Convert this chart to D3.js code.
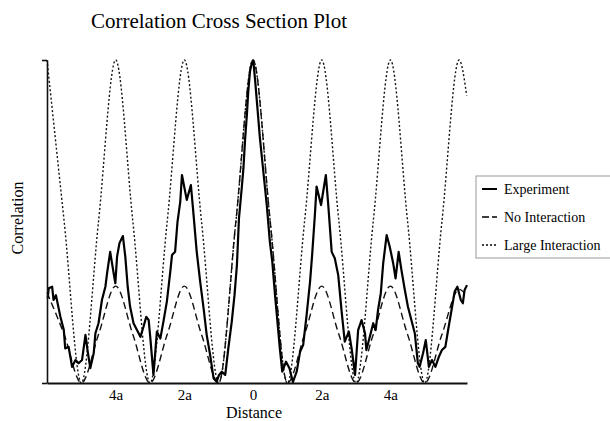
<!DOCTYPE html>
<html>
<head>
<meta charset="utf-8">
<script src="https://cdn.jsdelivr.net/npm/d3@7"></script>
<style>
    body { margin: 0; background: #fff; }
    text { font-family: "Liberation Serif", "Times New Roman", serif; fill: #000; }
</style>
</head>
<body>
<div id="container"></div>
<script>
// distance in units of a
var tickPositions = [-4, -2, 0, 2, 4];
var tickLabels = ["4a", "2a", "0", "2a", "4a"];

// experiment trace (distance, correlation)
var experimentX = [-5.98, -5.95, -5.85, -5.81, -5.74, -5.61, -5.51, -5.47, -5.37, -5.32, -5.27, -5.17, -5.08, -4.98, -4.88, -4.82, -4.74, -4.64, -4.59, -4.50,
    -4.40, -4.30, -4.25, -4.16, -4.06, -4.01, -3.96, -3.89, -3.79, -3.72, -3.65, -3.58, -3.48, -3.38, -3.28, -3.19, -3.11, -3.04, -2.99, -2.90,
    -2.80, -2.70, -2.61, -2.51, -2.41, -2.36, -2.27, -2.20, -2.12, -2.07, -1.93, -1.81, -1.74, -1.64, -1.54, -1.44, -1.35, -1.25, -1.15, -1.06,
    -0.99, -0.91, -0.81, -0.72, -0.62, -0.54, -0.47, -0.41, -0.33, -0.28, -0.23, -0.18, -0.14, -0.09, -0.04, 0.01, 0.06, 0.12, 0.20, 0.30,
    0.40, 0.49, 0.56, 0.64, 0.71, 0.78, 0.85, 0.96, 1.06, 1.16, 1.27, 1.37, 1.46, 1.56, 1.66, 1.72, 1.80, 1.85, 1.98, 2.12,
    2.19, 2.29, 2.38, 2.48, 2.58, 2.67, 2.79, 2.87, 2.97, 3.06, 3.16, 3.26, 3.30, 3.40, 3.50, 3.57, 3.64, 3.72, 3.79, 3.89,
    3.98, 4.08, 4.15, 4.24, 4.32, 4.42, 4.51, 4.61, 4.71, 4.80, 4.85, 4.95, 5.03, 5.12, 5.21, 5.31, 5.41, 5.50, 5.60, 5.68,
    5.78, 5.87, 5.95, 6.05, 6.11, 6.16, 6.23];
var experimentY = [0.262, 0.293, 0.298, 0.257, 0.272, 0.205, 0.164, 0.107, 0.112, 0.081, 0.050, 0.071, 0.061, 0.071, 0.149, 0.102, 0.046, 0.092, 0.154, 0.185,
    0.257, 0.298, 0.340, 0.406, 0.340, 0.309, 0.391, 0.433, 0.455, 0.391, 0.298, 0.236, 0.185, 0.164, 0.143, 0.174, 0.205, 0.195, 0.138, 0.025,
    0.159, 0.138, 0.190, 0.252, 0.345, 0.396, 0.406, 0.499, 0.561, 0.644, 0.567, 0.613, 0.530, 0.406, 0.314, 0.231, 0.149, 0.087, 0.015, 0.004,
    0.025, 0.035, 0.025, 0.107, 0.190, 0.272, 0.365, 0.510, 0.603, 0.665, 0.758, 0.830, 0.902, 0.964, 0.990, 0.995, 0.938, 0.861, 0.758, 0.654,
    0.551, 0.437, 0.376, 0.272, 0.190, 0.107, 0.035, 0.066, 0.046, 0.003, 0.035, 0.097, 0.118, 0.211, 0.314, 0.396, 0.520, 0.608, 0.551, 0.644,
    0.551, 0.406, 0.386, 0.334, 0.221, 0.128, 0.159, 0.107, 0.025, 0.164, 0.195, 0.154, 0.102, 0.143, 0.185, 0.164, 0.226, 0.278, 0.371, 0.458,
    0.422, 0.371, 0.324, 0.406, 0.350, 0.288, 0.236, 0.195, 0.154, 0.061, 0.050, 0.092, 0.133, 0.050, 0.071, 0.050, 0.081, 0.102, 0.112, 0.164,
    0.226, 0.283, 0.298, 0.257, 0.247, 0.288, 0.303];

// model curves, read every half unit
var modelX = [-6, -5.5, -5, -4.5, -4, -3.5, -3, -2.5, -2, -1.5, -1, -0.5, 0, 0.5, 1, 1.5, 2, 2.5, 3, 3.5, 4, 4.5, 5, 5.5, 6, 6.22];
var noInteraction = [0.28, 0.15, 0, 0.15, 0.30, 0.15, 0, 0.15, 0.30, 0.15, 0, 0.5, 1, 0.5, 0, 0.15, 0.30, 0.15, 0, 0.15, 0.30, 0.15, 0, 0.15, 0.29, 0.27];
var largeInteraction = [1, 0.5, 0, 0.5, 1, 0.5, 0, 0.5, 1, 0.5, 0, 0.5, 1, 0.5, 0, 0.5, 1, 0.5, 0, 0.5, 1, 0.5, 0, 0.5, 1, 0.89];

var legendNames = ["Experiment", "No Interaction", "Large Interaction"];

var width = 610;
var height = 421;

var svg = d3.select("#container")
    .append("svg")
    .attr("width", width)
    .attr("height", height);

var x = d3.scaleLinear().domain([-6, 6.23]).range([47, 467]);
var y = d3.scaleLinear().domain([0, 1]).range([383, 60]);

var line = d3.line()
    .x(d => x(d[0]))
    .y(d => y(d[1]));

// large interaction (dotted)
svg.append("path")
    .datum(d3.zip(modelX, largeInteraction))
    .attr("d", line.curve(d3.curveMonotoneX))
    .attr("fill", "none")
    .attr("stroke", "#111")
    .attr("stroke-width", 1.4)
    .attr("stroke-dasharray", "2,2.2");

// no interaction (dashed)
svg.append("path")
    .datum(d3.zip(modelX, noInteraction))
    .attr("d", line.curve(d3.curveMonotoneX))
    .attr("fill", "none")
    .attr("stroke", "#111")
    .attr("stroke-width", 1.4)
    .attr("stroke-dasharray", "7,4");

// experiment (solid)
svg.append("path")
    .datum(d3.zip(experimentX, experimentY))
    .attr("d", line.curve(d3.curveLinear))
    .attr("fill", "none")
    .attr("stroke", "#000")
    .attr("stroke-width", 2.2)
    .attr("stroke-linejoin", "round");

//axes
var xAxis = svg.append("g")
    .attr("transform", "translate(0,383)")
    .call(d3.axisBottom(x)
        .tickValues(tickPositions)
        .tickFormat((d, i) => tickLabels[i])
        .tickSize(0)
        .tickSizeOuter(0)
        .tickPadding(6));
xAxis.select(".domain").attr("stroke", "#111").attr("stroke-width", 2);
xAxis.selectAll("text")
    .style("font-family", "'Liberation Serif', serif")
    .style("font-size", "15px")
    .attr("fill", "#000");

var yAxis = svg.append("g")
    .attr("transform", "translate(47,0)")
    .call(d3.axisLeft(y)
        .tickValues([0, 1])
        .tickFormat("")
        .tickSize(5)
        .tickSizeOuter(0));
yAxis.select(".domain").attr("stroke", "#111").attr("stroke-width", 1.6);
yAxis.selectAll(".tick line").attr("stroke", "#111").attr("stroke-width", 1.6);

// titles
svg.append("text")
    .attr("x", 219)
    .attr("y", 28)
    .attr("text-anchor", "middle")
    .style("font-size", "21px")
    .text("Correlation Cross Section Plot");

svg.append("text")
    .attr("x", 254)
    .attr("y", 418)
    .attr("text-anchor", "middle")
    .style("font-size", "16px")
    .text("Distance");

svg.append("text")
    .attr("transform", "translate(23,218) rotate(-90)")
    .attr("text-anchor", "middle")
    .style("font-size", "16px")
    .text("Correlation");

//legend
var legend = svg.append("g");
legend.append("rect")
    .attr("x", 476)
    .attr("y", 176)
    .attr("width", 150)
    .attr("height", 82)
    .attr("fill", "none")
    .attr("stroke", "#999")
    .attr("stroke-width", 1);

var dashes = ["none", "7,3", "2,2"];
legendNames.forEach((name, i) => {
    var ly = 189 + i * 28;
    legend.append("line")
        .attr("x1", 482)
        .attr("x2", 497)
        .attr("y1", ly)
        .attr("y2", ly)
        .attr("stroke", "#000")
        .attr("stroke-width", i == 0 ? 2 : 1.4)
        .attr("stroke-dasharray", dashes[i]);
    legend.append("text")
        .attr("x", 504)
        .attr("y", ly + 5)
        .style("font-size", "14px")
        .text(name);
});
</script>
</body>
</html>
